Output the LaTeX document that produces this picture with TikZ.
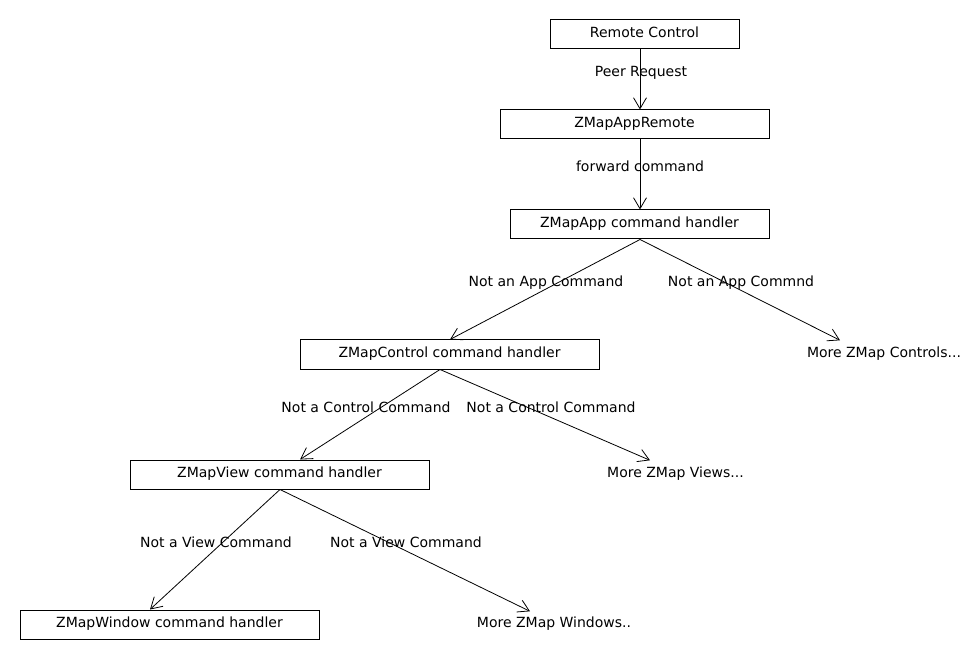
\documentclass[tikz,border=0pt]{standalone}
\usepackage{fontspec}
\setmainfont{DejaVu Sans}
\usetikzlibrary{arrows.meta}
\begin{document}
\begin{tikzpicture}[x=1pt,y=-1pt,
  box/.style={draw,line width=1pt,inner sep=0pt,minimum height=29pt,text height=10pt,text depth=4pt,font=\fontsize{14pt}{16pt}\selectfont},
  plain/.style={inner sep=0pt,text height=10pt,text depth=4pt,font=\fontsize{14pt}{16pt}\selectfont},
  lab/.style={inner sep=0pt,text height=10pt,text depth=0pt,font=\fontsize{14pt}{16pt}\selectfont},
  arr/.style={line width=0.8pt,-{Straight Barb[length=11pt,width=13pt,line width=0.8pt]}}]
\useasboundingbox (0,0) rectangle (980,660);
\node[box,minimum width=189pt] (rc) at (644.5,34.5) {Remote Control};
\node[box,minimum width=269pt] (ar) at (634.5,124.5) {ZMapAppRemote};
\node[box,minimum width=259pt] (ah) at (639.5,224.5) {ZMapApp command handler};
\node[box,minimum width=299pt] (ctl) at (449.5,354.5) {ZMapControl command handler};
\node[plain] (mctl) at (884,354.5) {More ZMap Controls...};
\node[box,minimum width=299pt] (view) at (279.5,474.5) {ZMapView command handler};
\node[plain] (mview) at (675.5,474.5) {More ZMap Views...};
\node[box,minimum width=299pt] (win) at (169.5,624.5) {ZMapWindow command handler};
\node[plain] (mwin) at (554,624.5) {More ZMap Windows..};
\draw[arr] ([xshift=-4.5pt]rc.south) -- ([xshift=5.5pt]ar.north);
\draw[arr] ([xshift=5.5pt]ar.south) -- ([xshift=0.5pt]ah.north);
\draw[arr] ([xshift=0.5pt]ah.south) -- ([xshift=0.5pt]ctl.north);
\draw[arr] ([xshift=0.5pt]ah.south) -- ([xshift=-44pt,yshift=7pt]mctl.north);
\draw[arr] ([xshift=-9.5pt]ctl.south) -- ([xshift=20.5pt]view.north);
\draw[arr] ([xshift=-9.5pt]ctl.south) -- ([xshift=-25.5pt,yshift=7pt]mview.north);
\draw[arr] ([xshift=0.5pt]view.south) -- ([xshift=-19.5pt]win.north);
\draw[arr] ([xshift=0.5pt]view.south) -- ([xshift=-24pt,yshift=6pt]mwin.north);
\node[lab] (l1) at (641,72) {Peer Request};
\node[lab] (l2) at (640,167) {forward command};
\node[lab] (l3) at (546,282) {Not an App Command};
\node[lab] (l4) at (741,282) {Not an App Commnd};
\node[lab] (l5) at (366,407) {Not a Control Command};
\node[lab] (l6) at (551,407) {Not a Control Command};
\node[lab] (l7) at (216,542) {Not a View Command};
\node[lab] (l8) at (406,542) {Not a View Command};
\end{tikzpicture}
\end{document}
